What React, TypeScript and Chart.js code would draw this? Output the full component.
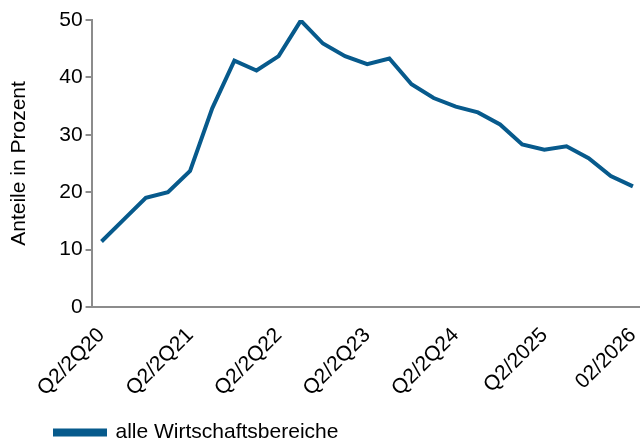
import React, { useEffect, useRef } from "react";
import { Chart, registerables } from "chart.js";

Chart.register(...registerables);

const quarterIndex = [0, 1, 2, 3, 4, 5, 6, 7, 8, 9, 10, 11, 12, 13, 14, 15, 16, 17, 18, 19, 20, 21, 22, 23, 24];
const seriesValues = [11.4, 15.2, 19.0, 20.0, 23.7, 34.6, 42.9, 41.2, 43.7, 49.9, 45.9, 43.7, 42.3, 43.3, 38.8, 36.4, 34.9, 33.9, 31.8, 28.3, 27.4, 28.0, 25.9, 22.8, 21.0];
const tickPositions = [0, 4, 8, 12, 16, 20, 24];
const tickLabels = ["Q2/2Q20", "Q2/2Q21", "Q2/2Q22", "Q2/2Q23", "Q2/2Q24", "Q2/2025", "02/2026"];
const seriesName = "alle Wirtschaftsbereiche";
const yTitle = "Anteile in Prozent";

const LINE = "#075a8c";
const AXIS = "#8c8c8c";
const FONT = "'Liberation Sans', Arial, sans-serif";
const FS = 21;

export default function App() {
  const ref = useRef<HTMLCanvasElement | null>(null);
  useEffect(() => {
    if (!ref.current) return;
    const legendShift = {
      id: "legendShift",
      afterLayout(chart: any) {
        const lg = chart.legend;
        if (lg) {
          lg.left += 42;
          lg.right += 42;
          lg.top += 7;
          lg.bottom += 7;
        }
      },
    };
    const chart = new Chart(ref.current, {
      type: "line",
      data: {
        datasets: [
          {
            label: seriesName,
            data: quarterIndex.map((q, i) => ({ x: q, y: seriesValues[i] })),
            borderColor: LINE,
            backgroundColor: LINE,
            borderWidth: 4,
            pointRadius: 0,
            tension: 0,
            borderJoinStyle: "miter",
          },
        ],
      },
      plugins: [legendShift],
      options: {
        animation: false,
        responsive: false,
        maintainAspectRatio: false,
        layout: { padding: { top: 20, right: 0, left: 7, bottom: 0 } },
        scales: {
          x: {
            type: "linear",
            min: -0.45,
            max: 24.32,
            afterBuildTicks: (scale: any) => {
              scale.ticks = tickPositions.map((v) => ({ value: v }));
            },
            afterFit: (scale: any) => {
              scale.paddingRight = 0;
            },
            ticks: {
              autoSkip: false,
              maxRotation: 45,
              minRotation: 45,
              color: "#000",
              font: { family: FONT, size: FS },
              padding: 8,
              callback: (v: any) => {
                const i = tickPositions.indexOf(Number(v));
                return i >= 0 ? tickLabels[i] : "";
              },
            },
            grid: { display: false },
            border: { display: true, color: AXIS, width: 2 },
          },
          y: {
            min: 0,
            max: 50,
            ticks: {
              stepSize: 10,
              color: "#000",
              font: { family: FONT, size: FS },
              padding: 3,
            },
            grid: { drawOnChartArea: false, drawTicks: true, tickLength: 6, color: AXIS, lineWidth: 2 },
            border: { display: true, color: AXIS, width: 2 },
            title: {
              display: true,
              text: yTitle,
              color: "#000",
              font: { family: FONT, size: FS },
              padding: { top: 0, bottom: 24 },
            },
          },
        },
        plugins: {
          legend: {
            position: "bottom",
            align: "start",
            labels: {
              boxWidth: 50,
              boxHeight: 4,
              color: "#000",
              font: { family: FONT, size: FS },
              padding: 6,
            },
          },
          tooltip: { enabled: false },
        },
      },
    });
    return () => chart.destroy();
  }, []);
  return (
    <div style={{ position: "absolute", left: 0, top: 0, width: 640, height: 446 }}>
      <canvas ref={ref} width={640} height={446} style={{ width: 640, height: 446 }} />
    </div>
  );
}
